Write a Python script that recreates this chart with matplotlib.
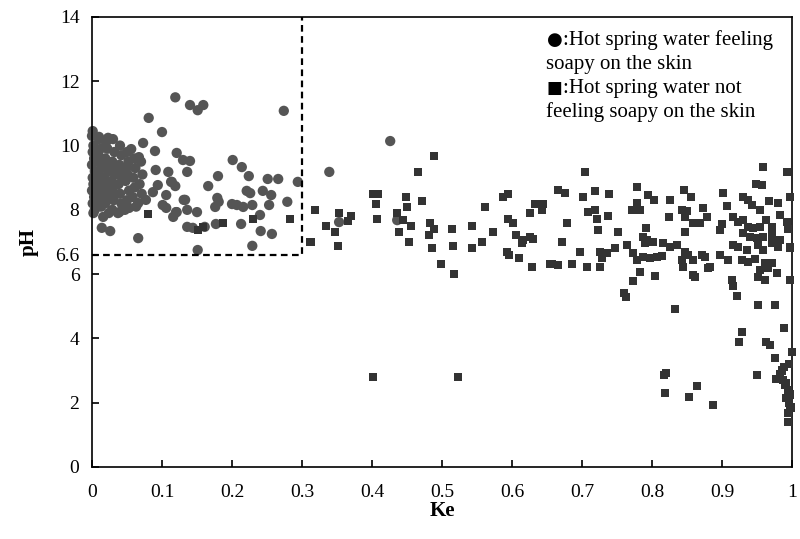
import matplotlib
matplotlib.use("Agg")
import matplotlib.pyplot as plt

# Circles: hot spring water feeling soapy on the skin (Ke, pH)
soapy_ke = [
    0.119, 0.140, 0.151, 0.159, 0.274, 0.081, 0.100, 0.001, 0.073, 0.090,
    0.056, 0.121, 0.130, 0.140, 0.136, 0.201, 0.214, 0.224, 0.180, 0.166,
    0.251, 0.266, 0.294, 0.221, 0.226, 0.244, 0.256, 0.179, 0.181, 0.176,
    0.200, 0.207, 0.216, 0.229, 0.253, 0.279, 0.240, 0.213, 0.177, 0.241,
    0.257, 0.229, 0.151, 0.136, 0.161, 0.133, 0.136, 0.121, 0.150, 0.116,
    0.114, 0.119, 0.066, 0.014, 0.026, 0.016, 0.037, 0.010, 0.023, 0.067,
    0.091, 0.109, 0.113, 0.094, 0.087, 0.106, 0.131, 0.077, 0.066, 0.101,
    0.120, 0.106, 0.039, 0.053, 0.144, 0.426, 0.339, 0.436, 0.353,
    # dense cluster near Ke = 0
    0.000, 0.002, 0.001, 0.003, 0.000, 0.004, 0.001, 0.002, 0.000, 0.003, 0.001, 0.004, 0.002,
    0.010, 0.012, 0.009, 0.011, 0.013, 0.010, 0.008, 0.012, 0.011, 0.009, 0.013,
    0.020, 0.022, 0.019, 0.021, 0.023, 0.018, 0.020, 0.022, 0.021, 0.019, 0.024,
    0.030, 0.032, 0.029, 0.031, 0.033, 0.028, 0.030, 0.032, 0.031, 0.029,
    0.040, 0.042, 0.039, 0.041, 0.043, 0.038, 0.040, 0.042,
    0.050, 0.052, 0.049, 0.051, 0.048, 0.053, 0.050, 0.047,
    0.060, 0.062, 0.059, 0.061, 0.058, 0.063,
    0.070, 0.072, 0.068, 0.071,
]
soapy_ph = [
    11.50, 11.26, 11.10, 11.26, 11.08, 10.86, 10.42, 10.45, 10.08, 9.83,
    9.89, 9.77, 9.55, 9.52, 9.18, 9.55, 9.33, 9.05, 9.05, 8.74,
    8.96, 8.96, 8.87, 8.59, 8.52, 8.59, 8.46, 8.37, 8.25, 8.09,
    8.18, 8.15, 8.09, 8.15, 8.15, 8.25, 7.84, 7.56, 7.56, 7.34,
    7.25, 6.88, 6.75, 7.47, 7.47, 8.31, 8.00, 7.93, 7.93, 7.78,
    8.87, 8.74, 7.12, 7.44, 7.34, 7.78, 7.90, 10.27, 10.24, 9.64,
    9.24, 9.18, 8.87, 8.77, 8.55, 8.46, 8.31, 8.31, 8.21, 8.15,
    7.93, 8.06, 7.93, 8.06, 7.44, 10.14, 9.18, 7.68, 7.62,
    10.30, 10.00, 9.80, 9.60, 9.40, 9.20, 9.00, 8.80, 8.60, 8.40, 8.20, 8.00, 7.90,
    10.20, 9.90, 9.70, 9.50, 9.30, 9.10, 8.90, 8.70, 8.50, 8.30, 8.10,
    10.10, 9.90, 9.60, 9.40, 9.20, 9.00, 8.80, 8.60, 8.40, 8.20, 7.90,
    10.20, 9.80, 9.50, 9.30, 9.10, 8.90, 8.70, 8.50, 8.30, 8.00,
    10.00, 9.70, 9.40, 9.20, 9.00, 8.80, 8.50, 8.20,
    9.80, 9.50, 9.30, 9.10, 8.90, 8.60, 8.30, 8.00,
    9.60, 9.30, 9.00, 8.70, 8.40, 8.10,
    9.50, 9.10, 8.80, 8.50,
]

# Squares: hot spring water not feeling soapy on the skin (Ke, pH)
not_soapy_ke = [
    0.080, 0.151, 0.159, 0.187, 0.230, 0.283, 0.311, 0.319,
    0.489, 0.466, 0.401, 0.409, 0.406, 0.407, 0.449, 0.450, 0.471, 0.436,
    0.444, 0.456, 0.439, 0.453, 0.334, 0.347, 0.353, 0.366, 0.370, 0.313,
    0.351, 0.483, 0.489, 0.481, 0.486, 0.499, 0.514, 0.516, 0.517, 0.543,
    0.543, 0.557, 0.561, 0.573, 0.587, 0.594, 0.594, 0.601, 0.606, 0.616,
    0.626, 0.630, 0.614, 0.593, 0.596, 0.610, 0.629, 0.626, 0.633, 0.644,
    0.643, 0.654, 0.401, 0.523,
    0.704, 0.666, 0.676, 0.701, 0.719, 0.739, 0.779, 0.794, 0.803, 0.779,
    0.771, 0.783, 0.826, 0.846, 0.856, 0.901, 0.907, 0.709, 0.719, 0.721,
    0.737, 0.679, 0.723, 0.751, 0.824, 0.843, 0.850, 0.847, 0.873, 0.879,
    0.859, 0.869, 0.847, 0.791, 0.787, 0.793, 0.671, 0.697, 0.657, 0.666,
    0.686, 0.707, 0.726, 0.729, 0.726, 0.736, 0.747, 0.764, 0.773, 0.779,
    0.787, 0.797, 0.807, 0.814, 0.790, 0.801, 0.816, 0.826, 0.836, 0.783,
    0.773, 0.804, 0.760, 0.763, 0.833, 0.847, 0.851, 0.859, 0.843, 0.844,
    0.859, 0.861, 0.871, 0.876, 0.883, 0.897, 0.909, 0.914, 0.916, 0.921,
    0.951, 0.976, 0.900, 0.897,
    0.959, 0.993, 0.949, 0.957, 0.930, 0.937, 0.943, 0.954, 0.967, 0.980,
    0.997, 0.916, 0.923, 0.930, 0.937, 0.944, 0.954, 0.963, 0.971, 0.983,
    0.993, 0.994, 0.930, 0.940, 0.950, 0.959, 0.971, 0.983, 0.916, 0.923,
    0.936, 0.951, 0.959, 0.971, 0.980, 0.997, 0.929, 0.937, 0.947, 0.961,
    0.971, 0.880, 0.954, 0.966, 0.979, 0.951, 0.961, 0.997, 0.997,
    0.989, 0.929, 0.924, 0.963, 0.969, 1.000, 0.976, 0.950, 0.887, 0.817,
    0.820, 0.819, 0.853, 0.864,
    0.989, 0.987, 0.994, 0.996, 0.994, 0.994, 0.977, 0.983, 0.990, 0.997,
    0.986, 0.992, 0.998, 0.991, 0.996,
]
not_soapy_ph = [
    7.87, 7.37, 7.47, 7.59, 7.72, 7.72, 7.00, 8.00,
    9.68, 9.18, 8.49, 8.49, 8.18, 7.72, 8.40, 8.09, 8.28, 7.90,
    7.68, 7.50, 7.31, 7.00, 7.50, 7.31, 7.90, 7.65, 7.81, 7.00,
    6.88, 7.59, 7.40, 7.22, 6.81, 6.32, 7.40, 6.88, 6.00, 7.50,
    6.81, 7.00, 8.09, 7.31, 8.40, 8.49, 7.72, 7.59, 7.22, 7.06,
    7.16, 7.09, 6.97, 6.69, 6.60, 6.50, 6.22, 7.90, 8.18, 8.18,
    8.00, 6.32, 2.80, 2.80,
    9.18, 8.62, 8.52, 8.40, 8.59, 8.49, 8.71, 8.46, 8.31, 8.21,
    8.00, 8.00, 8.31, 8.62, 8.40, 8.52, 8.12, 7.93, 8.00, 7.72,
    7.81, 7.59, 7.37, 7.31, 7.78, 8.00, 7.96, 7.78, 8.06, 7.78,
    7.59, 7.59, 7.31, 7.44, 7.16, 7.06, 7.00, 6.69, 6.32, 6.28,
    6.32, 6.22, 6.69, 6.50, 6.22, 6.66, 6.81, 6.91, 6.66, 6.44,
    6.53, 6.50, 6.53, 6.56, 6.97, 7.00, 6.97, 6.84, 6.91, 6.07,
    5.79, 5.94, 5.41, 5.29, 4.92, 6.69, 6.60, 6.44, 6.44, 6.22,
    5.97, 5.91, 6.60, 6.53, 6.22, 6.60, 6.44, 5.82, 5.63, 5.32,
    5.04, 5.04, 7.56, 7.37,
    9.33, 9.18, 8.81, 8.77, 8.40, 8.31, 8.15, 8.00, 8.28, 8.21,
    8.40, 7.78, 7.62, 7.68, 7.47, 7.44, 7.47, 7.68, 7.47, 7.84,
    7.62, 7.40, 7.28, 7.16, 7.12, 7.16, 7.22, 7.06, 6.91, 6.84,
    6.75, 6.91, 6.75, 6.97, 6.84, 6.84, 6.44, 6.38, 6.47, 6.35,
    6.35, 6.19, 6.13, 6.19, 6.04, 5.91, 5.82, 6.81, 5.82,
    4.32, 4.20, 3.89, 3.89, 3.80, 3.58, 3.39, 2.86, 1.93, 2.86,
    2.92, 2.30, 2.18, 2.52,
    3.11, 2.70, 2.40, 2.00, 1.68, 1.40, 2.74, 2.90, 2.55, 2.25,
    3.00, 2.15, 1.85, 2.60, 3.20,
]

y_ticks = [0, 2, 4, 6, 6.6, 8, 10, 12, 14]
x_ticks = [0, 0.1, 0.2, 0.3, 0.4, 0.5, 0.6, 0.7, 0.8, 0.9, 1]
x_tick_labels = ["0", "0.1", "0.2", "0.3", "0.4", "0.5", "0.6", "0.7", "0.8", "0.9", "1"]

SERIF = ["Liberation Serif", "DejaVu Serif"]

fig = plt.figure(figsize=(8.0, 5.39), dpi=100)
ax = fig.add_axes([0.115, 0.1336, 0.875, 0.8349])

ax.scatter(not_soapy_ke, not_soapy_ph, marker="s", s=36, color="#333333",
           edgecolors="none", zorder=3, clip_on=False)
ax.scatter(soapy_ke, soapy_ph, marker="o", s=55, color="#555555",
           edgecolors="none", zorder=2, clip_on=False)

# dashed region Ke <= 0.3, pH >= 6.6
ax.plot([0, 0.3, 0.3], [6.6, 6.6, 14], color="black", lw=1.6,
        linestyle=(0, (3, 2)), zorder=4, clip_on=False)

ax.set_xlim(0, 1)
ax.set_ylim(0, 14)
ax.set_xticks(x_ticks)
ax.set_xticklabels(x_tick_labels)
ax.set_yticks(y_ticks)
ax.set_yticklabels([str(t) for t in y_ticks])
ax.tick_params(direction="in", length=5, width=1.2, labelsize=14)
ax.tick_params(axis="x", pad=12)
ax.tick_params(axis="y", pad=9)
for lab in ax.get_xticklabels() + ax.get_yticklabels():
    lab.set_family(SERIF)
for sp in ax.spines.values():
    sp.set_linewidth(1.2)

ax.set_xlabel("Ke", fontsize=15, fontweight="bold", family=SERIF, labelpad=0)
ax.set_ylabel("pH", fontsize=15, fontweight="bold", family=SERIF, labelpad=12)

# legend written as text
W, H = 800.0, 539.0
leg = [
    (547, 40, "\u25cf", 13, ["DejaVu Sans"]),
    (563, 40, ":Hot spring water feeling", 15, SERIF),
    (546, 64, "soapy on the skin", 15, SERIF),
    (547, 88, "\u25a0", 12, ["DejaVu Sans"]),
    (563, 88, ":Hot spring water not", 15, SERIF),
    (546, 112, "feeling soapy on the skin", 15, SERIF),
]
for px, py, txt, fs, fam in leg:
    fig.text(px / W, 1 - py / H, txt, fontsize=fs, family=fam,
             ha="left", va="center", color="black")

fig.savefig("out.png", dpi=100, facecolor="white")
